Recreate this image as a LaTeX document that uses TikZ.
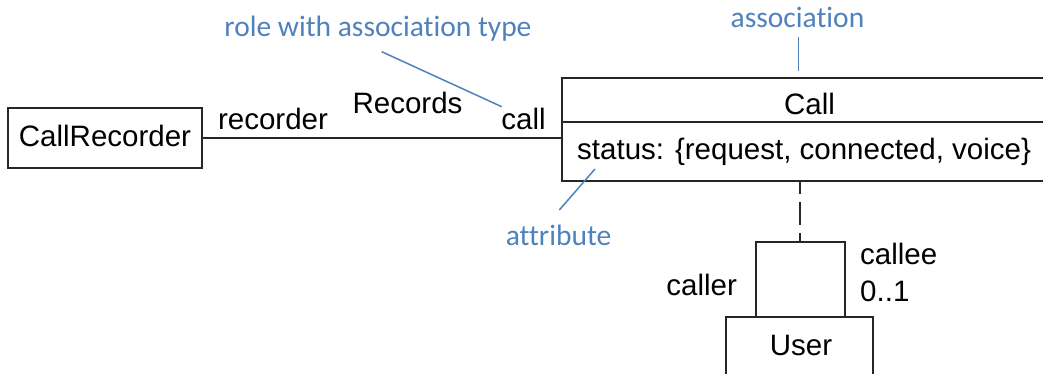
\documentclass[tikz,border=0pt]{standalone}
\usepackage{fontspec}
\setmainfont{Liberation Sans}
\newfontfamily\notefont[Ligatures=NoCommon]{Carlito}
\definecolor{noteblue}{RGB}{79,129,189}
\begin{document}
\begin{tikzpicture}[x=1pt,y=-1pt,
  box/.style={draw=black!85, line width=1.8pt, rectangle, inner sep=0pt, fill=white},
  txt/.style={anchor=base, inner sep=0pt, font=\fontsize{29.5}{35}\selectfont},
  note/.style={anchor=base, inner sep=0pt, text=noteblue, font=\notefont\fontsize{29.5}{35}\selectfont},
  link/.style={draw=black!85, line width=1.8pt},
  pointer/.style={draw=noteblue, line width=1.5pt}]
\useasboundingbox (0,0) rectangle (1043,373);

% classes
\node[box, minimum width=194pt, minimum height=60pt] (rec) at (105,138) {};
\node[box, minimum width=490pt, minimum height=44pt] (calltop) at (807,100) {};
\node[box, minimum width=490pt, minimum height=59pt] (callattr) at (807,151.5) {};
\node[box, minimum width=147pt, minimum height=90pt] (user) at (799.5,362) {};

% class texts
\node[txt] (recT) at (105,146) {CallRecorder};
\node[txt] (callT) at (809.5,114) {Call};
\node[txt, anchor=base west] (statusT) at (577,159.5) {status: \{request, connected, voice\}};
\node[txt] (userT) at (801,355) {User};

% association CallRecorder -- Call
\draw[link] (rec.east) -- (rec.east -| callattr.west);
\node[txt] (recorderT) at (273,129) {recorder};
\node[txt] (recordsT) at (407.5,113) {Records};
\node[txt] (callRoleT) at (523.5,129) {call};

% reflexive association on User, with Call as association class
\coordinate (loopL) at (756,0 |- user.north);
\coordinate (loopR) at (845,0 |- user.north);
\coordinate (loopTop) at (800,242);
\draw[link] (loopL) |- (loopTop) -| (loopR);
\draw[link, line width=1.5pt, dash pattern=on 23pt off 8pt, dash phase=11pt]
  (callattr.south -| loopTop) -- (loopTop);
\node[txt] (callerT) at (701.7,295) {caller};
\node[txt, anchor=base west] (calleeT) at (860,264) {callee};
\node[txt, anchor=base west] (multT) at (860,301) {0..1};

% annotations
\node[note] (roleNote) at (378,36) {role with association type};
\coordinate (roleA) at (381.7,51.7);
\coordinate (roleB) at (501.7,106.7);
\draw[pointer] (roleA) -- (roleB);

\node[note] (assocNote) at (797.5,27) {association};
\coordinate (assocA) at (798.3,37.3);
\coordinate (assocB) at (798.3,70.7);
\draw[pointer] (assocA) -- (assocB);

\node[note] (attrNote) at (558.5,245) {attribute};
\coordinate (attrA) at (595,169);
\coordinate (attrB) at (559.3,210);
\draw[pointer] (attrA) -- (attrB);
\end{tikzpicture}
\end{document}
